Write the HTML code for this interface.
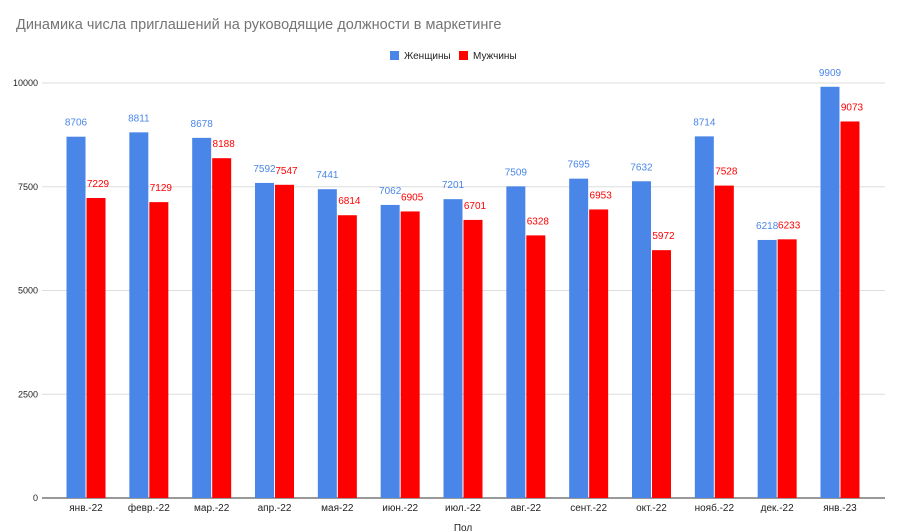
<!DOCTYPE html>
<html><head><meta charset="utf-8"><style>
body{margin:0;background:#fff;}
svg{display:block;font-family:"Liberation Sans",Arial,sans-serif;}
</style></head><body>
<svg id="c" width="900" height="532">
<text x="16" y="29" font-size="14.5" fill="#757575">Динамика числа приглашений на руководящие должности в маркетинге</text>
<g>
<rect x="390" y="51" width="9" height="9" fill="#4a86e8"></rect>
<text x="404" y="59" font-size="10" fill="#222">Женщины</text>
<rect x="459" y="51" width="9" height="9" fill="#ff0000"></rect>
<text x="473" y="59" font-size="10" fill="#222">Мужчины</text>
</g>
<text x="463" y="531" font-size="10" fill="#222" text-anchor="middle">Пол</text>
<g id="grid"></g><g id="bars"></g>
</svg>
<script>
const categories=["янв.-22","февр.-22","мар.-22","апр.-22","мая-22","июн.-22","июл.-22","авг.-22","сент.-22","окт.-22","нояб.-22","дек.-22","янв.-23"];
const women=[8706,8811,8678,7592,7441,7062,7201,7509,7695,7632,8714,6218,9909];
const men=[7229,7129,8188,7547,6814,6905,6701,6328,6953,5972,7528,6233,9073];
const yTicks=[0,2500,5000,7500,10000];
const NS="http://www.w3.org/2000/svg";
const x0=42,x1=885,yBase=498,yTop=83,yMax=10000;
const bandStart=54.6,bandEnd=871.4;
const y=v=>yBase-(v/yMax)*(yBase-yTop);
const step=(bandEnd-bandStart)/categories.length;
const cx=i=>bandStart+step*(i+0.5);
function mk(tag,attrs,parent,text){const e=document.createElementNS(NS,tag);for(const k in attrs)e.setAttribute(k,attrs[k]);if(text!==undefined)e.textContent=text;parent.appendChild(e);return e;}
const grid=document.getElementById('grid'),bars=document.getElementById('bars');
yTicks.forEach(t=>{
 const l=mk('line',{x1:x0,x2:x1,y1:y(t),y2:y(t),stroke:t===0?'#333':'#ddd','stroke-width':1},grid);
 
 
 const tx=mk('text',{x:38,y:y(t)+3,'font-size':9,fill:'#222','text-anchor':'end'},grid,String(t));
 
 
});
const bw=19;
categories.forEach((c,i)=>{
 const m=cx(i);
 const bx=m-bw-0.5, rx=m+0.5;
 const b=mk('rect',{x:bx,y:y(women[i]),width:bw,height:yBase-y(women[i]),fill:'#4a86e8'},bars);
 
 
 const r=mk('rect',{x:rx,y:y(men[i]),width:bw,height:yBase-y(men[i]),fill:'#ff0000'},bars);
 
 
 const lb=mk('text',{x:bx+bw/2,y:y(women[i])-11,'font-size':10,fill:'#4a86e8','text-anchor':'middle'},bars,String(women[i]));
 
 
 const lr=mk('text',{x:rx+bw/2+2,y:y(men[i])-11,'font-size':10,fill:'#ff0000','text-anchor':'middle'},bars,String(men[i]));
 
 
 const xl=mk('text',{x:m,y:511,'font-size':10,fill:'#222','text-anchor':'middle'},bars,c);
 
 
});
</script>
</body></html>
